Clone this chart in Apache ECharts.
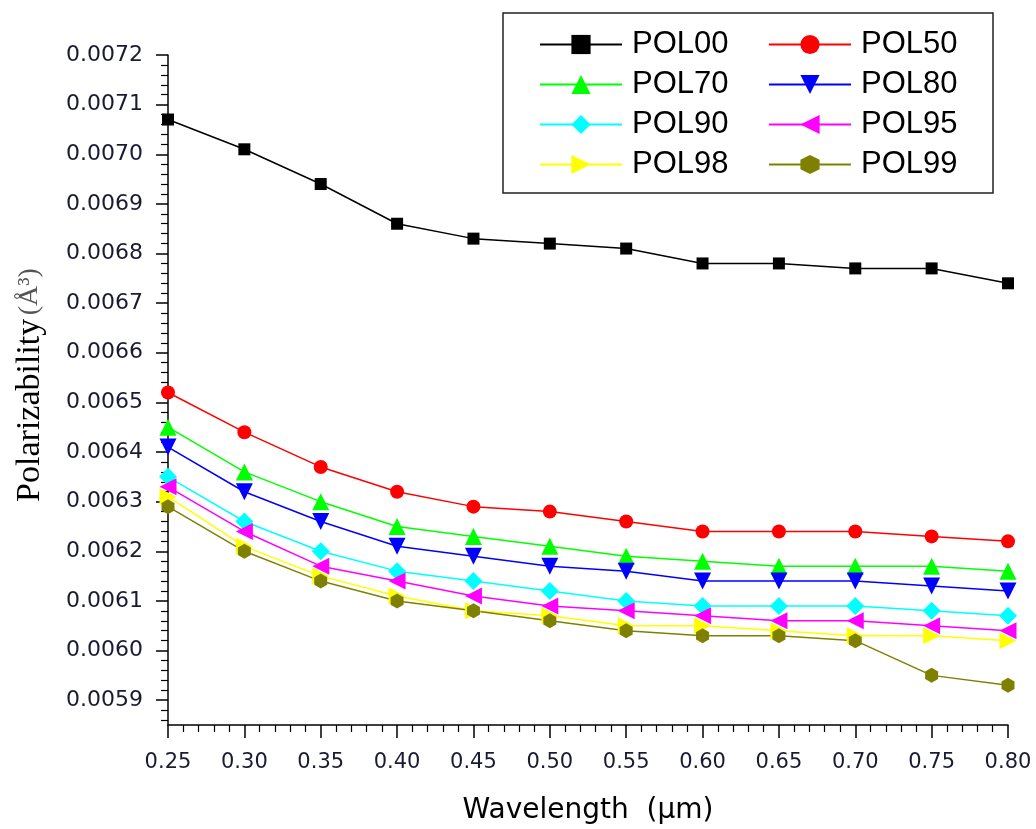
<!DOCTYPE html>
<html>
<head>
<meta charset="utf-8">
<script src="https://cdn.jsdelivr.net/npm/echarts@6/dist/echarts.min.js"></script>
<style>html,body{margin:0;padding:0;background:#fff}#chart{width:1036px;height:829px}</style>
</head>
<body>
<div id="chart"></div>
<script>
const wavelength = [0.25,0.30,0.35,0.40,0.45,0.50,0.55,0.60,0.65,0.70,0.75,0.80];
const POL00 = [0.00707,0.00701,0.00694,0.00686,0.00683,0.00682,0.00681,0.00678,0.00678,0.00677,0.00677,0.00674];
const POL50 = [0.00652,0.00644,0.00637,0.00632,0.00629,0.00628,0.00626,0.00624,0.00624,0.00624,0.00623,0.00622];
const POL70 = [0.00645,0.00636,0.00630,0.00625,0.00623,0.00621,0.00619,0.00618,0.00617,0.00617,0.00617,0.00616];
const POL80 = [0.00641,0.00632,0.00626,0.00621,0.00619,0.00617,0.00616,0.00614,0.00614,0.00614,0.00613,0.00612];
const POL90 = [0.00635,0.00626,0.00620,0.00616,0.00614,0.00612,0.00610,0.00609,0.00609,0.00609,0.00608,0.00607];
const POL95 = [0.00633,0.00624,0.00617,0.00614,0.00611,0.00609,0.00608,0.00607,0.00606,0.00606,0.00605,0.00604];
const POL98 = [0.00631,0.00621,0.00615,0.00611,0.00608,0.00607,0.00605,0.00605,0.00604,0.00603,0.00603,0.00602];
const POL99 = [0.00629,0.00620,0.00614,0.00610,0.00608,0.00606,0.00604,0.00603,0.00603,0.00602,0.00595,0.00593];
const yTicks = [0.0059,0.0060,0.0061,0.0062,0.0063,0.0064,0.0065,0.0066,0.0067,0.0068,0.0069,0.0070,0.0071,0.0072];
const xTicks = [0.25,0.30,0.35,0.40,0.45,0.50,0.55,0.60,0.65,0.70,0.75,0.80];

const yMin = 0.00585, yMax = 0.0072;
const yMinor = [];
for (let i = 0; i <= 67; i++) {
  const v = +(yMin + 0.00001 + i * 0.00002).toFixed(6);
  if (v > yMax) break;
  if (Math.abs(v * 10000 - Math.round(v * 10000)) > 1e-6) yMinor.push(v);
}

const hexagon = 'path://M50,0 L93.3,25 L93.3,75 L50,100 L6.7,75 L6.7,25 Z';
const seriesDefs = [
  {name:'POL00', data:POL00, color:'#000000', symbol:'rect', size:12, rot:0},
  {name:'POL50', data:POL50, color:'#FF0000', symbol:'circle', size:14, rot:0},
  {name:'POL70', data:POL70, color:'#00FF00', symbol:'triangle', size:17, rot:0},
  {name:'POL80', data:POL80, color:'#0000FF', symbol:'triangle', size:17, rot:180},
  {name:'POL90', data:POL90, color:'#00FFFF', symbol:'diamond', size:18, rot:0},
  {name:'POL95', data:POL95, color:'#FF00FF', symbol:'triangle', size:17, rot:90},
  {name:'POL98', data:POL98, color:'#FFFF00', symbol:'triangle', size:17, rot:-90},
  {name:'POL99', data:POL99, color:'#808000', symbol:hexagon, size:15, rot:0}
];

const series = seriesDefs.map(s => ({
  name: s.name,
  type: 'line',
  xAxisIndex: 0,
  yAxisIndex: 0,
  data: wavelength.map((x, i) => [x, s.data[i]]),
  symbol: s.symbol,
  symbolSize: s.size,
  symbolRotate: s.rot,
  symbolKeepAspect: true,
  showAllSymbol: true,
  lineStyle: {color: s.color, width: 1.5},
  itemStyle: {color: s.color},
  emphasis: {disabled: true},
  animation: false
}));

const legendCommon = {
  orient: 'vertical',
  itemWidth: 82,
  itemHeight: 24,
  itemGap: 9,
  padding: 0,
  selectedMode: false,
  textStyle: {fontFamily: 'Liberation Sans', fontSize: 31, color: '#000', padding: [0,0,0,5]}
};

const chart = echarts.init(document.getElementById('chart'), null, {renderer: 'canvas'});
chart.setOption({
  backgroundColor: '#fff',
  animation: false,
  grid: {left: 168, right: 28, top: 55, bottom: 104, containLabel: false},
  legend: [
    Object.assign({left: 539, top: 29, data: ['POL00','POL70','POL90','POL98']}, legendCommon),
    Object.assign({left: 768, top: 29, data: ['POL50','POL80','POL95','POL99']}, legendCommon)
  ],
  xAxis: {
    type: 'value',
    min: 0.25, max: 0.80, interval: 0.05,
    axisLine: {show: true, lineStyle: {color: '#000', width: 1.5}},
    axisTick: {show: true, inside: false, length: 13, lineStyle: {color: '#000', width: 1.5}},
    minorTick: {show: true, splitNumber: 5, length: 7, lineStyle: {color: '#000', width: 1.2}},
    axisLabel: {
      customValues: xTicks,
      formatter: v => v.toFixed(2), margin: 27,
      fontFamily: 'DejaVu Sans', fontSize: 21, color: '#1a1a33'
    },
    splitLine: {show: false}
  },
  yAxis: [
    {
      type: 'value', min: yMin, max: yMax, position: 'left',
      axisLine: {show: true, lineStyle: {color: '#000', width: 1.5}},
      axisTick: {show: true, inside: false, length: 12, customValues: yTicks, lineStyle: {color: '#000', width: 1.5}},
      axisLabel: {
        customValues: yTicks,
        formatter: v => v.toFixed(4), margin: 25,
        fontFamily: 'DejaVu Sans', fontSize: 22, color: '#1a1a33'
      },
      splitLine: {show: false}
    },
    {
      type: 'value', min: yMin, max: yMax, position: 'left', offset: 0,
      axisLine: {show: false},
      axisTick: {show: true, inside: false, length: 7, customValues: yMinor, lineStyle: {color: '#000', width: 1.2}},
      axisLabel: {show: false},
      splitLine: {show: false}
    }
  ],
  series: series,
  graphic: [
    {type: 'rect', shape: {x: 503, y: 13, width: 490, height: 180}, style: {fill: 'none', stroke: '#222', lineWidth: 1.5}, z: 10},
    {type: 'text', x: 588, y: 811, style: {text: 'Wavelength  (\u03bcm)', font: '28px "DejaVu Sans"', fill: '#000', textAlign: 'center', textVerticalAlign: 'middle'}},
    {type: 'text', x: 30, y: 385, rotation: Math.PI / 2,
     style: {text: '{a|Polarizability} {b|(\u00c5\u00b3)}', textAlign: 'center', textVerticalAlign: 'middle',
       rich: {a: {fontFamily: 'Liberation Serif', fontSize: 34, fill: '#000', color: '#000'},
              b: {fontFamily: 'Liberation Serif', fontSize: 28, fill: '#555', color: '#555'}}}}
  ]
});
</script>
</body>
</html>
